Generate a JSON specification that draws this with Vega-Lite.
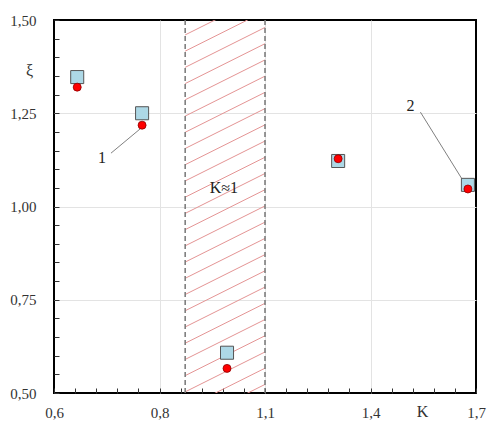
{
  "$schema": "https://vega.github.io/schema/vega-lite/v6.json",
  "autosize": {"type": "none"},
  "padding": {"left": 54, "top": 20, "right": 13, "bottom": 28},
  "width": 422,
  "height": 373,
  "config": {
    "view": {"stroke": "#000000", "strokeWidth": 2},
    "font": "Liberation Serif",
    "axis": {"labelFont": "Liberation Serif", "titleFont": "Liberation Serif", "labelColor": "#333333", "titleColor": "#333333", "labelFontSize": 15, "titleFontSize": 15, "titleFontWeight": "normal", "labelOverlap": false}
  },
  "datasets": {
    "hatch": [
      {"x": 0.873, "x2": 1.1, "y": 0.416, "y2": 0.523},
      {"x": 0.873, "x2": 1.1, "y": 0.4595, "y2": 0.5665},
      {"x": 0.873, "x2": 1.1, "y": 0.503, "y2": 0.61},
      {"x": 0.873, "x2": 1.1, "y": 0.5465, "y2": 0.6535},
      {"x": 0.873, "x2": 1.1, "y": 0.59, "y2": 0.697},
      {"x": 0.873, "x2": 1.1, "y": 0.6335, "y2": 0.7405},
      {"x": 0.873, "x2": 1.1, "y": 0.677, "y2": 0.784},
      {"x": 0.873, "x2": 1.1, "y": 0.7205, "y2": 0.8275},
      {"x": 0.873, "x2": 1.1, "y": 0.764, "y2": 0.871},
      {"x": 0.873, "x2": 1.1, "y": 0.8075, "y2": 0.9145},
      {"x": 0.873, "x2": 1.1, "y": 0.851, "y2": 0.958},
      {"x": 0.873, "x2": 1.1, "y": 0.8945, "y2": 1.0015},
      {"x": 0.873, "x2": 1.1, "y": 0.938, "y2": 1.045},
      {"x": 0.873, "x2": 1.1, "y": 0.9815, "y2": 1.0885},
      {"x": 0.873, "x2": 1.1, "y": 1.025, "y2": 1.132},
      {"x": 0.873, "x2": 1.1, "y": 1.0685, "y2": 1.1755},
      {"x": 0.873, "x2": 1.1, "y": 1.112, "y2": 1.219},
      {"x": 0.873, "x2": 1.1, "y": 1.1555, "y2": 1.2625},
      {"x": 0.873, "x2": 1.1, "y": 1.199, "y2": 1.306},
      {"x": 0.873, "x2": 1.1, "y": 1.2425, "y2": 1.3495},
      {"x": 0.873, "x2": 1.1, "y": 1.286, "y2": 1.393},
      {"x": 0.873, "x2": 1.1, "y": 1.3295, "y2": 1.4365},
      {"x": 0.873, "x2": 1.1, "y": 1.373, "y2": 1.48},
      {"x": 0.873, "x2": 1.1, "y": 1.4165, "y2": 1.5235},
      {"x": 0.873, "x2": 1.1, "y": 1.46, "y2": 1.567}
    ],
    "bounds": [{"K": 0.873}, {"K": 1.1}],
    "leaders": [
      {"x": 0.708, "y": 1.143, "x2": 0.765, "y2": 1.21},
      {"x": 1.542, "y": 1.253, "x2": 1.662, "y2": 1.071}
    ],
    "squares": [
      {"K": 0.644, "xi": 1.347},
      {"K": 0.767, "xi": 1.25},
      {"K": 0.992, "xi": 0.608},
      {"K": 1.308, "xi": 1.122},
      {"K": 1.677, "xi": 1.058}
    ],
    "circles": [
      {"K": 0.644, "xi": 1.32},
      {"K": 0.767, "xi": 1.218},
      {"K": 0.992, "xi": 0.566},
      {"K": 1.308, "xi": 1.128},
      {"K": 1.677, "xi": 1.047}
    ],
    "labels": [
      {"K": 0.691, "xi": 1.13, "t": "1"},
      {"K": 1.514, "xi": 1.27, "t": "2"},
      {"K": 0.983, "xi": 1.05, "t": "K≈1"}
    ]
  },
  "layer": [
    {
      "data": {"name": "hatch"},
      "mark": {"type": "rule", "clip": true, "stroke": "#e49494", "strokeWidth": 1},
      "encoding": {
        "x": {"field": "x", "type": "quantitative",
          "scale": {"domain": [0.6, 0.8, 1.1, 1.4, 1.7], "range": [0, 105.5, 211, 316.5, 422], "nice": false, "zero": false},
          "axis": {
            "values": [0.6, 0.64, 0.68, 0.72, 0.76, 0.8, 0.86, 0.92, 0.98, 1.04, 1.1, 1.16, 1.22, 1.28, 1.34, 1.4, 1.46, 1.52, 1.58, 1.64, 1.7],
            "tickCount": 100,
            "labelExpr": "indexof([0.6,0.8,1.1,1.4,1.7], datum.value) >= 0 ? replace(format(datum.value,'.1f'),'.',',') : ''",
            "labelOverlap": false,
            "grid": true,
            "gridColor": {"condition": {"test": "indexof([0.8,1.1,1.4], datum.value) >= 0", "value": "#e3e3e3"}, "value": "transparent"},
            "domain": false,
            "tickSize": -5,
            "tickColor": "#333333",
            "labelPadding": 17,
            "labelFlush": false,
            "title": "K",
            "titleX": 368,
            "titleY": 18,
            "titleFontSize": 16,
            "titleBaseline": "middle",
            "titleAnchor": "middle"
          }
        },
        "x2": {"field": "x2"},
        "y": {"field": "y", "type": "quantitative",
          "scale": {"domain": [0.5, 1.5], "nice": false, "zero": false},
          "axis": {
            "values": [0.5, 0.55, 0.6, 0.65, 0.7, 0.75, 0.8, 0.85, 0.9, 0.95, 1, 1.05, 1.1, 1.15, 1.2, 1.25, 1.3, 1.35, 1.4, 1.45, 1.5],
            "tickCount": 100,
            "labelExpr": "indexof([0.5,0.75,1,1.25,1.5], datum.value) >= 0 ? replace(format(datum.value,'.2f'),'.',',') : ''",
            "labelOverlap": false,
            "grid": true,
            "gridColor": {"condition": {"test": "indexof([0.75,1,1.25], datum.value) >= 0", "value": "#e3e3e3"}, "value": "transparent"},
            "domain": false,
            "tickSize": -5,
            "tickColor": "#333333",
            "labelPadding": 23,
            "labelFlush": false,
            "title": "ξ",
            "titleFontSize": 16,
            "titleAngle": 0,
            "titleX": -25,
            "titleY": 50,
            "titleBaseline": "middle",
            "titleAlign": "center"
          }
        },
        "y2": {"field": "y2"}
      }
    },
    {
      "data": {"name": "bounds"},
      "mark": {"type": "rule", "stroke": "#777777", "strokeWidth": 1.5, "strokeDash": [5, 3]},
      "encoding": {"x": {"field": "K", "type": "quantitative"}}
    },
    {
      "data": {"name": "leaders"},
      "mark": {"type": "rule", "stroke": "#808080", "strokeWidth": 1},
      "encoding": {
        "x": {"field": "x", "type": "quantitative"},
        "x2": {"field": "x2"},
        "y": {"field": "y", "type": "quantitative"},
        "y2": {"field": "y2"}
      }
    },
    {
      "data": {"name": "squares"},
      "mark": {"type": "point", "shape": "square", "filled": true, "size": 170, "fill": "#add8e6", "stroke": "#555555", "strokeWidth": 1, "opacity": 1},
      "encoding": {
        "x": {"field": "K", "type": "quantitative"},
        "y": {"field": "xi", "type": "quantitative"}
      }
    },
    {
      "data": {"name": "circles"},
      "mark": {"type": "point", "shape": "circle", "filled": true, "size": 64, "fill": "#ff0000", "stroke": "#8b0000", "strokeWidth": 0.8, "opacity": 1},
      "encoding": {
        "x": {"field": "K", "type": "quantitative"},
        "y": {"field": "xi", "type": "quantitative"}
      }
    },
    {
      "data": {"name": "labels"},
      "mark": {"type": "text", "font": "Liberation Serif", "fontSize": 16, "color": "#222222", "align": "center", "baseline": "middle"},
      "encoding": {
        "x": {"field": "K", "type": "quantitative"},
        "y": {"field": "xi", "type": "quantitative"},
        "text": {"field": "t"}
      }
    }
  ]
}
